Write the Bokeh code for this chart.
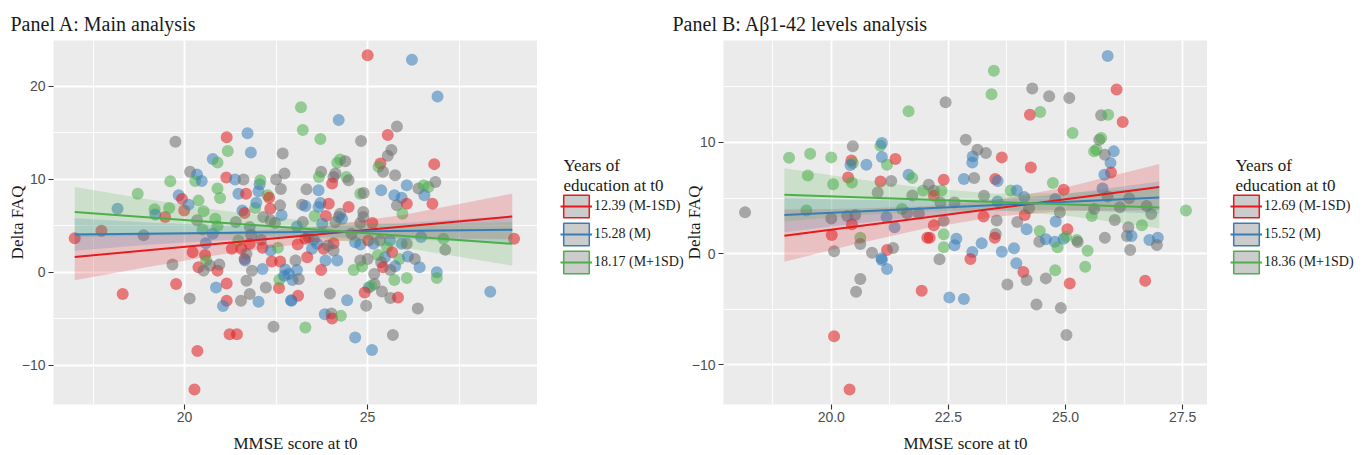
import math
from bokeh.plotting import figure
from bokeh.models import (ColumnDataSource, Range1d, FixedTicker, Label, Legend,
                          LegendItem, PrintfTickFormatter)
from bokeh.layouts import row
from bokeh.embed import file_html
from bokeh.resources import INLINE

# ---------------- Panel A data ----------------
a_mmse = [
    17.00, 17.73, 18.17, 18.72, 18.31, 18.88, 19.18, 19.20, 19.47, 19.58,
    19.61, 19.75, 19.67, 19.77, 19.84, 19.93, 19.99, 20.11, 20.15, 20.34,
    20.29, 20.47, 20.38, 20.52, 20.34, 20.49, 20.58, 20.56, 20.22, 20.38,
    20.52, 20.59, 20.69, 20.14, 20.35, 20.27, 20.77, 20.90, 21.15, 21.18,
    20.90, 20.97, 20.84, 20.77, 20.90, 20.90, 20.95, 20.86, 21.15, 21.15,
    21.05, 21.23, 21.43, 21.72, 21.81, 21.14, 21.38, 21.61, 21.47, 21.68,
    21.40, 21.58, 21.64, 21.29, 21.47, 21.55, 21.64, 21.65, 21.69, 21.54,
    21.69, 21.78, 21.84, 21.78, 21.78, 21.93, 21.96, 22.02, 22.05, 22.07,
    22.27, 22.31, 22.34, 22.15, 22.35, 22.47, 22.65, 21.82, 22.09, 22.13,
    22.35, 22.55, 22.38, 22.61, 22.13, 22.22, 22.58, 22.59, 22.75, 22.72,
    22.91, 22.02, 22.43, 22.68, 22.73, 22.50, 22.63, 22.61, 22.85, 25.00,
    26.21, 26.91, 23.18, 23.23, 23.71, 24.21, 24.82, 25.80, 25.55, 25.65,
    25.55, 24.17, 24.25, 24.39, 25.35, 25.30, 25.42, 25.75, 26.82, 23.73,
    23.67, 24.07, 24.12, 24.42, 24.48, 24.03, 23.33, 23.66, 24.80, 24.89,
    25.37, 26.07, 26.39, 26.53, 26.66, 26.85, 26.55, 25.73, 25.93, 25.80,
    26.07, 26.77, 23.21, 23.30, 23.71, 23.66, 23.94, 24.48, 23.55, 23.86,
    24.25, 24.21, 24.88, 24.88, 25.95, 23.23, 23.76, 24.12, 24.30, 24.80,
    25.13, 23.07, 23.39, 23.53, 23.30, 23.62, 23.09, 23.48, 23.80, 24.07,
    24.07, 23.92, 24.56, 24.66, 24.80, 25.02, 25.16, 25.34, 25.61, 25.93,
    26.07, 26.46, 27.07, 27.12, 29.00, 25.53, 25.67, 25.47, 25.28, 25.87,
    26.10, 26.29, 25.75, 25.37, 25.42, 25.62, 26.42, 26.89, 26.89, 24.80,
    25.00, 24.85, 24.62, 25.18, 24.17, 23.85, 23.35, 23.03, 23.07, 23.73,
    22.95, 23.12, 25.73, 26.07, 25.19, 25.03, 25.10, 24.92, 25.39, 25.62,
    25.83, 26.37, 28.35, 23.10, 22.92, 23.97, 24.44, 24.96, 23.83, 24.01,
    24.03, 24.27, 23.30, 24.66, 25.12, 25.69,
]
a_faq = [
    3.67, 4.46, 6.83, 8.45, -2.34, 3.99, 6.76, 6.22, 5.94, 6.91,
    9.78, 14.03, 0.83, -1.26, 8.27, 7.88, 6.65, 7.27, 10.79, 10.50,
    9.82, 9.82, 7.70, 6.55, 5.58, 4.60, 3.13, 1.87, 2.16, 0.54,
    0.18, 1.26, 0.72, -2.81, -8.45, -12.59, 12.16, 11.80, 14.50, 13.02,
    8.99, 7.99, 5.76, 4.14, 4.96, 0.18, 0.83, -1.62, -1.19, -3.06,
    -3.63, -6.65, -6.65, 14.93, 12.88, 10.18, 9.96, 9.96, 8.45, 8.45,
    5.40, 6.65, 6.37, 2.52, 3.42, 2.52, 1.44, 1.26, 1.98, -3.06,
    -0.90, -2.34, 0.18, 3.06, 4.86, 6.91, 7.48, 8.71, 9.46, 9.89,
    8.27, 8.02, 6.83, 5.94, 5.58, 5.29, 6.12, 4.03, 3.49, 2.63,
    2.34, 2.63, 1.15, 1.15, 0.36, -1.62, -1.69, -0.79, 0.29, -0.36,
    -2.99, -3.17, -5.86, 12.77, 10.61, 9.96, 8.96, 7.19, -0.18, 23.31,
    22.84, 18.88, 17.73, 15.29, 14.32, 16.37, 14.10, 15.65, 14.75, 13.13,
    12.52, 11.76, 12.12, 11.94, 11.69, 11.33, 10.79, 10.43, 11.62, 10.79,
    10.25, 10.25, 10.61, 10.25, 9.89, 9.53, 8.92, 8.81, 8.45, 8.53,
    8.81, 9.35, 8.99, 9.35, 9.17, 9.71, 8.27, 8.27, 8.02, 7.19,
    7.37, 7.37, 7.27, 7.12, 7.45, 7.01, 7.37, 7.01, 6.04, 6.04,
    6.29, 5.94, 6.47, 5.94, 6.29, 5.40, 5.22, 5.40, 5.76, 5.29,
    5.29, 4.93, 3.78, 3.49, 3.60, 3.06, 2.99, 2.52, 2.52, 3.13,
    2.34, 2.88, 4.14, 3.24, 2.99, 3.42, 3.06, 3.42, 3.42, 3.06,
    3.06, 3.78, 3.60, 2.41, 3.60, 2.70, 2.16, 1.62, 1.87, 1.44,
    1.69, 1.44, 0.65, 1.08, 0.54, 0.25, 0.54, 0.00, -0.61, 1.26,
    1.44, 0.61, 0.25, -0.18, 1.26, 1.26, 1.62, 1.26, 0.25, 0.25,
    -0.83, -0.72, -0.83, -0.61, -1.26, -1.62, -1.44, -2.16, -2.05, -2.77,
    -2.70, -3.88, -2.09, -2.52, -3.06, -2.27, -2.99, -3.60, -4.50, -4.42,
    -4.96, -4.68, -5.94, -7.01, -8.35, -6.73,
]
a_group = list(
    "RRBGRKGBRG" "GKKRBRRBKB" "GBGGKGBRRR" "KGKKRRBGRG" "GGGBGRKBRR"
    "BRRBBRBKBR" "KBRRGRRBKK" "KKKRKGBBBG" "GRRKKKBKKR" "BGRRBKRGBB"
    "BBKKKKKKBR" "BBGGGBKKRK" "KGGKRGKKRK" "GKKGKRKBGK" "BBKGGKBBBK"
    "RRKBBBRRGR" "KKKKGKBKBK" "RBKKRBRBRR" "KKKBBRBKBB" "KBGKRGRBGG"
    "BKBKRKBBGK" "KGGKBBRKBR" "BKGGKBGRKK" "RKBRBKBKBK" "RGGBBK"
)
a_line_x = [17.0, 28.95]
a_line_red = [1.65, 6.00]
a_line_blue = [4.06, 4.57]
a_line_green = [6.47, 3.06]
a_band_x = [17.0, 19.0, 21.0, 23.5, 26.0, 28.95]
a_red_lo = [-0.85, 0.58, 1.91, 3.22, 3.68, 3.55]
a_red_hi = [4.15, 4.18, 4.31, 4.82, 6.18, 8.45]
a_blue_lo = [2.31, 2.95, 3.43, 3.79, 3.59, 3.07]
a_blue_hi = [5.81, 5.35, 5.03, 4.89, 5.29, 6.07]
a_green_lo = [3.77, 3.95, 4.03, 3.77, 2.65, 0.71]
a_green_hi = [9.17, 7.85, 6.63, 5.47, 5.15, 5.41]
a_legend_labels = ["12.39 (M-1SD)", "15.28 (M)", "18.17 (M+1SD)"]

# ---------------- Panel B data ----------------
b_mmse = [
    18.16, 19.10, 19.55, 20.00, 19.50, 19.47, 20.04, 20.00, 20.01, 20.06,
    20.06, 20.39, 20.46, 20.43, 20.46, 20.41, 20.36, 20.44, 20.34, 20.51,
    20.44, 20.62, 20.62, 20.62, 20.53, 20.75, 20.87, 20.99, 21.05, 21.05,
    21.08, 21.08, 21.19, 21.37, 21.28, 21.18, 21.35, 21.19, 21.32, 21.07,
    21.08, 21.19, 21.51, 21.62, 21.65, 21.73, 21.65, 21.73, 21.87, 21.96,
    22.08, 22.19, 22.19, 22.19, 22.05, 22.10, 21.93, 22.35, 22.40, 22.33,
    22.40, 22.40, 22.40, 22.31, 22.44, 22.63, 22.67, 22.63, 22.52, 22.83,
    22.87, 22.83, 23.05, 23.01, 23.02, 23.12, 23.30, 23.26, 23.25, 23.21,
    23.01, 22.97, 23.47, 23.42, 23.64, 23.50, 23.55, 23.55, 23.53, 23.51,
    23.49, 23.64, 23.83, 23.96, 23.97, 23.90, 23.95, 24.10, 24.17, 23.76,
    24.29, 24.24, 24.46, 24.26, 24.12, 24.13, 24.17, 24.22, 24.45, 24.44,
    24.58, 24.58, 24.38, 24.65, 24.73, 24.78, 24.79, 24.88, 24.77, 24.83,
    24.96, 24.96, 25.04, 25.01, 24.78, 24.90, 25.02, 25.09, 25.08, 25.15,
    25.24, 25.26, 25.47, 25.42, 25.56, 25.61, 25.66, 25.72, 25.76, 25.76,
    25.91, 25.90, 26.09, 26.22, 26.03, 25.84, 25.96, 25.97, 25.83, 25.79,
    25.90, 25.61, 26.05, 26.16, 25.84, 26.36, 26.34, 26.31, 26.41, 26.38,
    26.63, 26.70, 26.73, 26.83, 26.79, 26.97, 26.95, 27.57,
]
b_faq = [
    3.71, 8.62, 8.98, 8.65, 7.02, 3.87, 6.24, 3.15, 1.68, 0.21,
    -7.42, -12.20, 9.64, 8.38, 8.14, 7.96, 6.85, 6.40, 3.39, 3.48,
    2.64, 1.44, 0.87, -2.28, -3.42, 7.99, 0.09, 5.50, 6.49, 9.70,
    9.94, 8.68, 7.99, 8.50, 6.52, 3.30, 2.37, 0.33, 0.51, -0.42,
    -0.57, -1.38, 4.02, 3.63, 7.09, 6.79, 12.79, 5.23, 3.63, 5.68,
    6.19, 5.65, 5.20, 2.55, 1.44, 1.44, -3.33, 5.68, 6.64, 4.59,
    2.94, 1.74, 0.57, -0.51, 13.61, 4.59, 1.35, 0.75, -3.93, -4.08,
    10.24, 6.70, 6.79, 8.20, 8.74, 9.34, 9.04, 5.20, 3.33, 0.93,
    0.15, -0.48, 16.43, 14.32, 8.65, 6.70, 6.52, 4.68, 2.97, 1.77,
    1.44, 0.18, 5.68, 5.68, 2.85, 0.48, -0.87, -1.65, -2.37, -2.76,
    14.83, 12.49, 12.73, 7.75, 5.08, 3.48, 2.19, 4.08, 2.04, 1.08,
    1.29, -2.22, -4.57, 14.14, 6.34, 4.92, 2.88, 3.72, 1.08, 0.57,
    5.74, 1.35, 2.19, 1.53, -1.50, -4.87, -7.30, -2.67, 13.99, 10.84,
    1.23, 1.05, 0.27, -1.17, 3.39, 9.19, 9.34, 10.24, 10.39, 12.43,
    12.49, 17.75, 14.74, 11.83, 9.19, 8.89, 8.14, 7.30, 7.09, 5.86,
    5.14, 4.02, 3.03, 4.17, 1.44, 4.98, 2.37, 1.59, 1.59, 0.33,
    2.55, -2.43, 4.29, 3.57, 1.23, 1.44, 0.78, 3.87,
]
b_group = list(
    "KGGGGGGKRK" "RRKRGBRGKK" "RGKKKBKKRG" "BBGRKBBRKB" "BBGKBGGKKG"
    "KKRRRRRGRK" "KGGKKKBBBB" "KBKBBKKKRB" "BRGGRRBBKK" "RBGBKBBRKK"
    "KRGRBRBKGK" "BKKKGBBKBG" "RBRGGKKRKG" "GKGGGGGKGK" "GBRRBKBRBB"
    "KKKKKKKKBK" "GRKKBBKG"
)
b_line_x = [19.0, 27.0]
b_line_red = [1.62, 5.98]
b_line_blue = [3.48, 5.04]
b_line_green = [5.29, 4.14]
b_band_x = [19.0, 20.5, 22.0, 23.5, 25.0, 27.0]
b_red_lo = [-0.72, 0.84, 2.26, 3.32, 3.84, 3.91]
b_red_hi = [3.96, 4.04, 4.26, 4.82, 5.94, 8.05]
b_blue_lo = [1.93, 2.72, 3.37, 3.86, 3.95, 3.59]
b_blue_hi = [5.03, 4.82, 4.77, 4.86, 5.35, 6.49]
b_green_lo = [2.90, 3.42, 3.80, 3.89, 3.43, 2.28]
b_green_hi = [7.68, 6.72, 5.90, 5.39, 5.43, 6.00]
b_legend_labels = ["12.69 (M-1SD)", "15.52 (M)", "18.36 (M+1SD)"]

assert len(a_mmse) == len(a_faq) == len(a_group)
assert len(b_mmse) == len(b_faq) == len(b_group)

GROUP_COLORS = {"R": "#E41A1C", "B": "#377EB8", "G": "#4DAF4A", "K": "#6E6E6E"}
LINE_COLORS = ["#E41A1C", "#377EB8", "#4DAF4A"]
SERIF = "Liberation Serif"
SANS = "Liberation Sans"
H = 455


def make_panel(width, left, xr, yr, xticks, xminor, yticks, yminor, xfmt,
               xs, ys, gs, line_x, lines, band_x, bands,
               title, title_off, ylab_standoff, border_fill):
    p = figure(width=width, height=H, x_range=Range1d(*xr), y_range=Range1d(*yr),
               output_backend="svg", toolbar_location=None,
               min_border_left=left, min_border_right=0,
               min_border_top=40, min_border_bottom=51,
               background_fill_color="#EBEBEB", border_fill_color=border_fill,
               outline_line_color=None)
    p.title.text = title
    p.title.align = "left"
    p.title.offset = title_off
    p.title.standoff = 12
    p.title.text_font = SERIF
    p.title.text_font_size = "20px"
    p.title.text_font_style = "normal"
    p.title.text_color = "#1A1A1A"

    xt = FixedTicker(ticks=xticks, minor_ticks=xminor)
    yt = FixedTicker(ticks=yticks, minor_ticks=yminor)
    p.xaxis.ticker = xt
    p.xgrid.ticker = xt
    p.yaxis.ticker = yt
    p.ygrid.ticker = yt
    if xfmt is not None:
        p.xaxis.formatter = PrintfTickFormatter(format=xfmt)
    p.yaxis.major_label_overrides = {-10: "\u221210"}
    for ax in (p.xaxis[0], p.yaxis[0]):
        ax.axis_line_color = None
        ax.major_tick_line_color = "#333333"
        ax.major_tick_line_width = 1.1
        ax.major_tick_out = 5
        ax.major_tick_in = 0
        ax.minor_tick_line_color = None
        ax.major_label_text_font = SANS
        ax.major_label_text_font_size = "14px"
        ax.major_label_text_color = "#4D4D4D"
        ax.axis_label_text_font = SERIF
        ax.axis_label_text_font_size = "17px"
        ax.axis_label_text_font_style = "normal"
        ax.axis_label_text_color = "#1A1A1A"
    p.xaxis.major_label_standoff = 2
    p.yaxis.major_label_standoff = 3
    p.xaxis.axis_label = "MMSE score at t0"
    p.xaxis.axis_label_standoff = 9
    p.yaxis.axis_label = "Delta FAQ"
    p.yaxis.axis_label_standoff = ylab_standoff

    p.grid.grid_line_color = "white"
    p.grid.grid_line_width = 1.8
    p.grid.minor_grid_line_color = "white"
    p.grid.minor_grid_line_width = 0.9

    src = ColumnDataSource(dict(x=xs, y=ys, c=[GROUP_COLORS[g] for g in gs]))
    p.scatter("x", "y", source=src, size=12, fill_color="c", line_color=None,
              fill_alpha=0.55)

    for col, (lo, hi) in zip(LINE_COLORS, bands):
        p.varea(x=band_x, y1=lo, y2=hi, fill_color=col, fill_alpha=0.2)
    for col, ly in zip(LINE_COLORS, lines):
        p.line(x=line_x, y=ly, line_color=col, line_width=2)
    return p


def make_legend(width, labels, title_x):
    # frame of this figure is aligned with the panel frames (40..404 px)
    f = figure(width=width, height=H, x_range=Range1d(0, width), y_range=Range1d(0, H),
               output_backend="svg", toolbar_location=None,
               x_axis_type=None, y_axis_type=None, min_border=0,
               background_fill_color=None, border_fill_color=None,
               outline_line_color=None)
    items = []
    for col, lab in zip(LINE_COLORS, labels):
        # key glyphs: one off-range datum each so the legend can draw them
        box = f.quad(left=[-60], right=[-50], top=[-50], bottom=[-60],
                     fill_color="#CCCCCC", line_color=col, line_width=1.5)
        ln = f.line(x=[-60, -50], y=[-55, -55], line_color=col, line_width=2)
        items.append(LegendItem(label=lab, renderers=[box, ln]))
    leg = Legend(items=items, location=(23, 128), glyph_width=32, glyph_height=28,
                 label_height=10, spacing=0, padding=0, margin=0, label_standoff=2,
                 border_line_color=None, background_fill_alpha=0,
                 label_text_font=SERIF, label_text_font_size="14px",
                 label_text_color="#1A1A1A")
    f.add_layout(leg)
    for text, y in (("Years of", 239), ("education at t0", 219)):
        f.add_layout(Label(x=title_x, y=y, x_units="screen", y_units="screen", text=text,
                           text_font=SERIF, text_font_size="17px", text_color="#1A1A1A",
                           text_align="left", text_baseline="alphabetic"))
    return f


pA = make_panel(537, 53, (16.42, 29.64), (-14.2, 24.9), [20, 25], [17.5, 22.5, 27.5],
                [-10, 0, 10, 20], [-5, 5, 15], None,
                a_mmse, a_faq, a_group, a_line_x, [a_line_red, a_line_blue, a_line_green],
                a_band_x, [(a_red_lo, a_red_hi), (a_blue_lo, a_blue_hi), (a_green_lo, a_green_hi)],
                "Panel A: Main analysis", -43, -8, "white")
legA = make_legend(147, a_legend_labels, 26)

pB = make_panel(535, 51, (17.7, 28.03), (-13.55, 19.15), [20, 22.5, 25, 27.5],
                [18.75, 21.25, 23.75, 26.25], [-10, 0, 10], [-5, 5, 15], "%.1f",
                b_mmse, b_faq, b_group, b_line_x, [b_line_red, b_line_blue, b_line_green],
                b_band_x, [(b_red_lo, b_red_hi), (b_blue_lo, b_blue_hi), (b_green_lo, b_green_hi)],
                "Panel B: A\u03b21-42 levels analysis", -51, -15, None)
pB.margin = (0, 0, 0, -12)
legB = make_legend(157, b_legend_labels, 28)

layout = row(pA, legA, pB, legB)
open("out.html", "w").write(file_html(layout, INLINE))
